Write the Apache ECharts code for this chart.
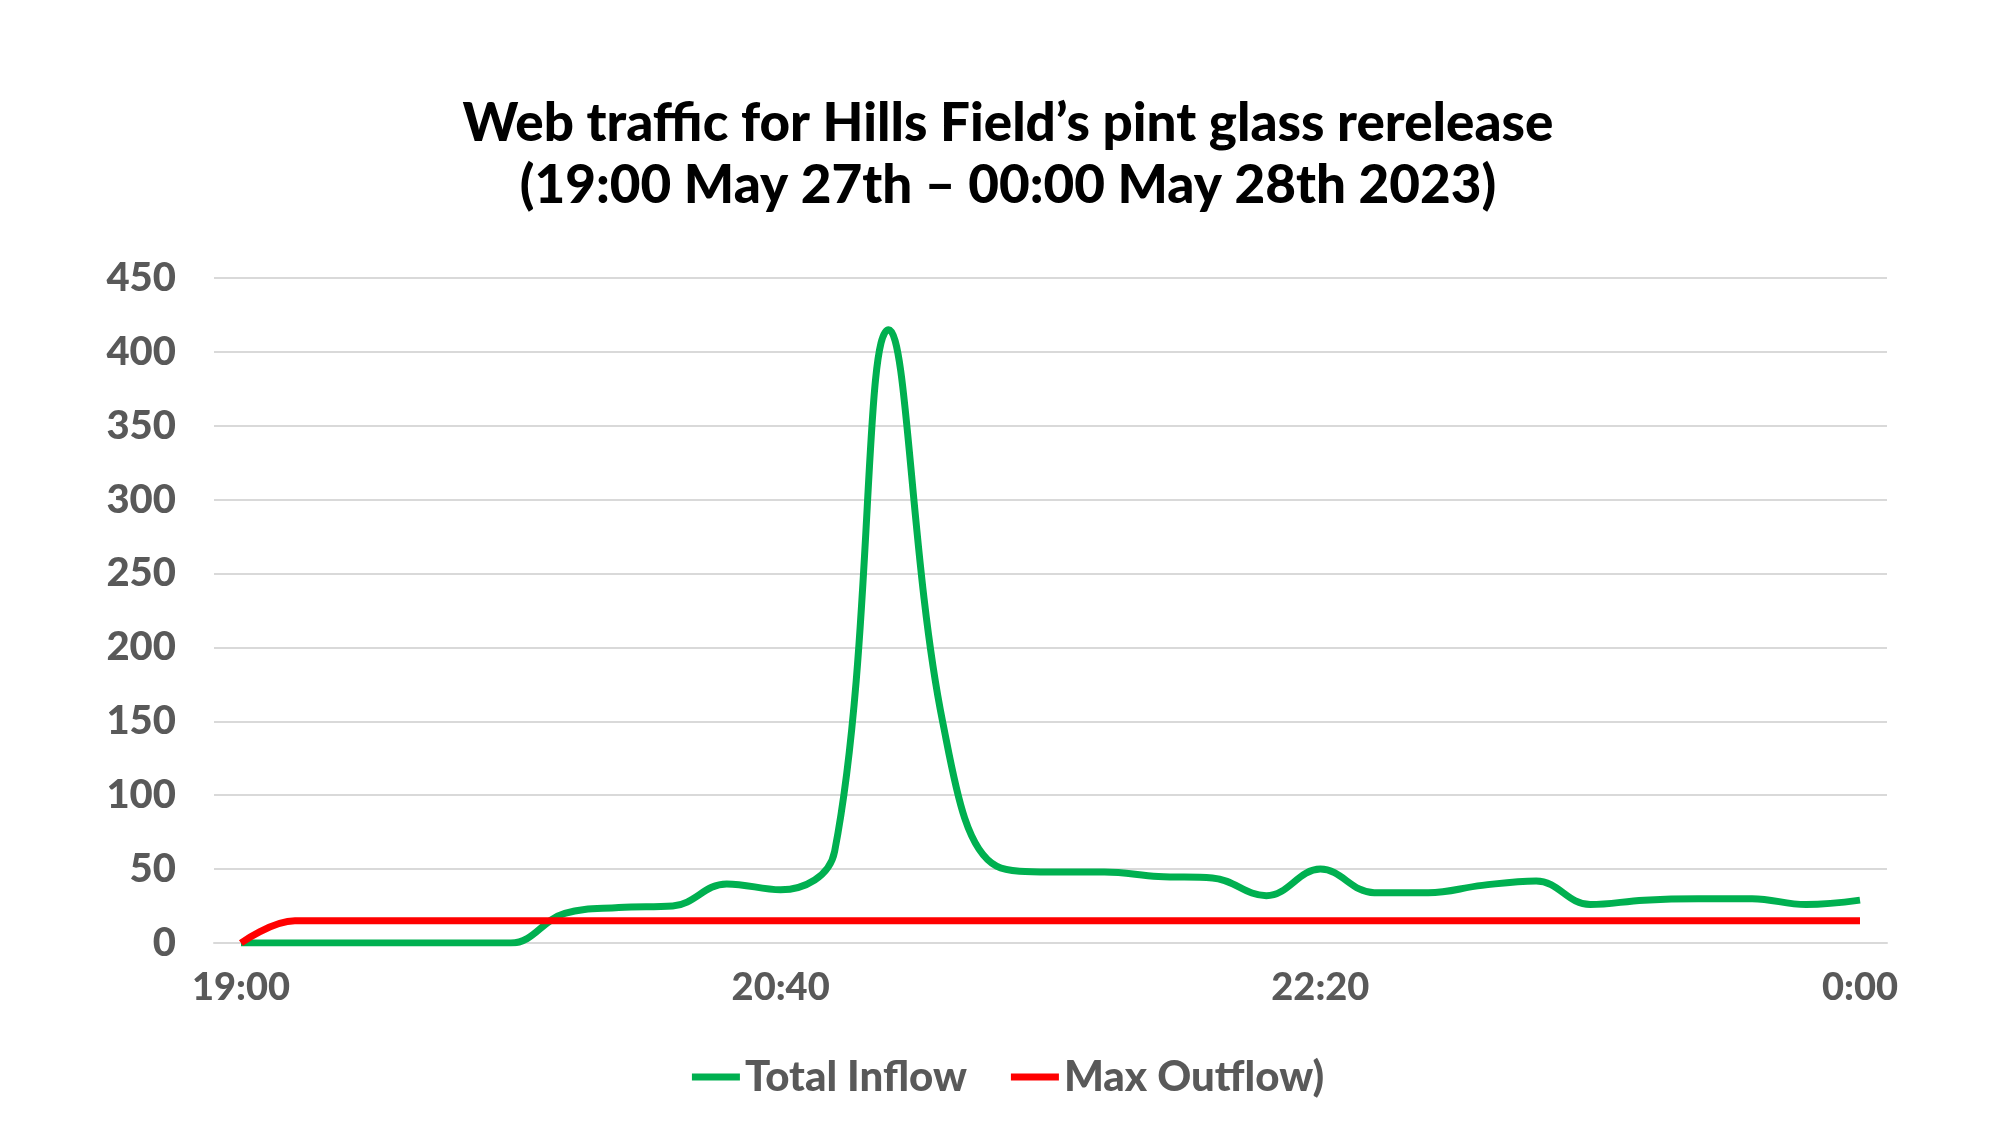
<!DOCTYPE html><html><head><meta charset="utf-8"><script src="https://cdn.jsdelivr.net/npm/echarts@6/dist/echarts.min.js"></script>
<style>html,body{margin:0;background:#fff}#c{width:2016px;height:1133px}</style></head><body><div id="c"></div><script>
const times=[];for(let i=0;i<=30;i++){const m=19*60+i*10;times.push(((Math.floor(m/60))%24)+':'+String(m%60).padStart(2,'0'));}
const inflow=[0,0,0,0,0,0,20,24,25,40,36,62,415,150,52,48,48,45,44,32,50,34,34,39,42,26,29,30,30,26,29];
const outflow=[0,15,15,15,15,15,15,15,15,15,15,15,15,15,15,15,15,15,15,15,15,15,15,15,15,15,15,15,15,15,15];
const F='Lato';
echarts.init(document.getElementById('c')).setOption({
 title:{text:"Web traffic for Hills Field’s pint glass rerelease\n(19:00 May 27th – 00:00 May 28th 2023)",left:'center',top:88,textStyle:{fontFamily:F,fontWeight:900,fontSize:53,lineHeight:62,color:'#000'}},
 grid:{left:214,right:129,top:278,bottom:190},
 legend:{bottom:30,itemWidth:48,itemHeight:7,icon:'rect',itemGap:44,textStyle:{fontFamily:F,fontWeight:900,fontSize:42,color:'#595959'},data:['Total Inflow','Max Outflow)']},
 xAxis:{type:'category',data:times,boundaryGap:true,axisTick:{show:false},axisLine:{lineStyle:{color:'#d9d9d9',width:2}},axisLabel:{interval:9,fontFamily:F,fontWeight:900,fontSize:38,color:'#595959',margin:26}},
 yAxis:{type:'value',min:0,max:450,interval:50,axisLabel:{fontFamily:F,fontWeight:900,fontSize:40,color:'#595959',margin:38},splitLine:{lineStyle:{color:'#d9d9d9',width:2}}},
 series:[{name:'Total Inflow',type:'line',data:inflow,smooth:0.4,symbol:'none',lineStyle:{color:'#00b050',width:7},itemStyle:{color:'#00b050'}},
 {name:'Max Outflow)',type:'line',data:outflow,smooth:0.4,symbol:'none',lineStyle:{color:'#ff0000',width:7},itemStyle:{color:'#ff0000'}}]
});
</script></body></html>
